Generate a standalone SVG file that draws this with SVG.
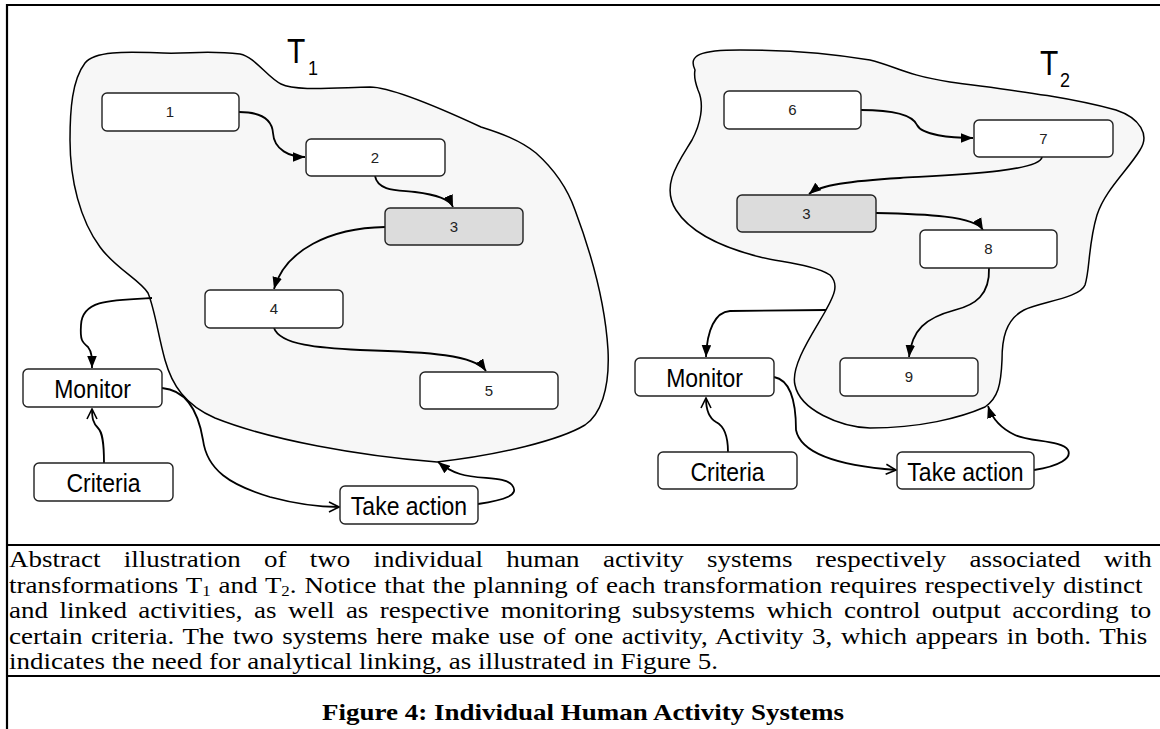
<svg xmlns="http://www.w3.org/2000/svg" width="1160" height="729" viewBox="0 0 1160 729">
  <style>
    .frame { stroke: #000; stroke-width: 2.2; fill: none; }
    .blob { fill: #f7f7f7; stroke: #000; stroke-width: 1.5; }
    .box { fill: #fff; stroke: #222; stroke-width: 1.4; }
    .shared { fill: #dcdcdc; stroke: #222; stroke-width: 1.4; }
    .num { font-family: "Liberation Sans", Arial, sans-serif; font-size: 15px; fill: #222; text-anchor: middle; }
    .lbl { font-family: "Liberation Sans", Arial, sans-serif; font-size: 23px; fill: #000; text-anchor: middle; }
    .tname { font-family: "Liberation Sans", Arial, sans-serif; font-size: 30px; fill: #000; }
    .tsub { font-family: "Liberation Sans", Arial, sans-serif; font-size: 18px; fill: #000; }
    .link { fill: none; stroke: #000; stroke-width: 1.8; }
    .cap { font-family: "Liberation Serif", "Times New Roman", serif; font-size: 24px; fill: #000; }
    .title { font-family: "Liberation Serif", "Times New Roman", serif; font-size: 24px; font-weight: bold; fill: #000; text-anchor: middle; }
  </style>
  <defs>
    <marker id="solid" viewBox="0 0 10 8" refX="10" refY="4" markerWidth="12" markerHeight="10" markerUnits="userSpaceOnUse" orient="auto">
      <path d="M0,0 L10,4 L0,8 z" fill="#000"/>
    </marker>
    <marker id="open" viewBox="0 0 12 12" refX="11" refY="6" markerWidth="12" markerHeight="12" markerUnits="userSpaceOnUse" orient="auto">
      <path d="M1,1 L11,6 L1,11" fill="none" stroke="#000" stroke-width="1.6"/>
    </marker>
  </defs>

  <rect width="1160" height="729" fill="#fff"/>

  <!-- page frame and caption rules -->
  <g id="frame">
    <path class="frame" d="M7,729 L7,5 L1160,5"/>
    <path class="frame" d="M7,545 L1160,545"/>
    <path class="frame" d="M7,676 L1160,676"/>
  </g>

  <!-- transformation T1 boundary -->
  <g id="system-t1">
    <path class="blob" d="M85,63 C95,50 130,52 163,53 C190,54 205,50 240,54 C255,57 268,78 281,84 C295,91 330,88 370,87 C390,87 440,108 481,127 C500,133 520,140 536,153 C555,170 568,190 575,210 C590,250 605,300 608,350 C610,390 600,415 585,425 C560,440 500,455 437,462 C360,456 270,440 215,418 C185,405 172,385 165,360 C158,335 155,310 148,293 C140,280 115,268 100,247 C80,220 70,180 70,140 C70,110 72,80 85,63 Z"/>
    <g transform="translate(287,63) scale(1,1.15)"><text class="tname" x="0" y="0">T</text></g>
    <g transform="translate(308,75) scale(1,1.15)"><text class="tsub" x="0" y="0">1</text></g>
  </g>

  <!-- transformation T2 boundary -->
  <g id="system-t2">
    <path class="blob" d="M695,70 C688,55 700,50 740,50 C800,50 840,55 870,60 C895,66 905,75 950,82 C1000,89 1060,95 1116,110 C1140,118 1150,135 1140,150 C1128,170 1105,190 1097,215 C1088,245 1090,270 1085,285 C1080,298 1040,302 1024,310 C1005,320 1002,340 1002,360 C1001,385 998,398 985,407 C960,418 920,428 870,428 C840,427 800,410 795,385 C790,365 815,330 826,310 C833,297 840,285 830,275 C815,265 780,262 760,257 C720,247 690,232 676,210 C660,185 680,160 692,140 C700,125 705,105 698,90 C695,82 694,75 695,70 Z"/>
    <g transform="translate(1040,75) scale(1,1.15)"><text class="tname" x="0" y="0">T</text></g>
    <g transform="translate(1060,87) scale(1,1.15)"><text class="tsub" x="0" y="0">2</text></g>
  </g>

  <!-- connectors -->
  <g id="connectors">
    <!-- T1 activity chain -->
    <path class="link" marker-end="url(#solid)" d="M239,112 C262,112 272,120 273,133 C274,150 290,157 305,157"/>
    <path class="link" marker-end="url(#solid)" d="M375,176 C378,192 400,190 415,192 C440,195 450,200 453,207"/>
    <path class="link" marker-end="url(#solid)" d="M385,227 C330,228 285,250 274,289"/>
    <path class="link" marker-end="url(#solid)" d="M274,328 C280,345 320,348 360,350 C430,352 475,355 486,371"/>
    <!-- T1 monitoring loop -->
    <path class="link" marker-end="url(#solid)" d="M152,298 C110,300 82,300 81,325 C80,340 82,342 88,347 C92,352 92,358 92,368"/>
    <path class="link" marker-end="url(#open)" d="M104,463 C104,440 102,432 98,428 C93,423 92,418 92,409"/>
    <path class="link" marker-end="url(#open)" d="M162,388 C185,390 198,410 203,440 C207,470 230,485 270,497 C300,505 320,507 339,507"/>
    <path class="link" marker-end="url(#solid)" d="M478,504 C505,500 520,495 512,485 C505,476 480,480 460,474 C450,471 443,466 438,462"/>
    <!-- T2 activity chain -->
    <path class="link" marker-end="url(#solid)" d="M861,110 C890,110 912,114 917,125 C922,135 950,138 973,138"/>
    <path class="link" marker-end="url(#solid)" d="M1042,157 C1040,172 950,175 900,178 C850,181 820,185 809,194"/>
    <path class="link" marker-end="url(#solid)" d="M876,213 C925,214 975,216 983,230"/>
    <path class="link" marker-end="url(#solid)" d="M989,268 C990,295 975,305 955,310 C925,318 912,330 909,357"/>
    <!-- T2 monitoring loop -->
    <path class="link" marker-end="url(#solid)" d="M826,310 L730,311 C715,312 707,330 706,357"/>
    <path class="link" marker-end="url(#open)" d="M728,452 C728,432 722,425 716,422 C709,418 706,410 706,398"/>
    <path class="link" marker-end="url(#open)" d="M774,377 C790,380 796,400 796,430 C800,450 830,465 896,470"/>
    <path class="link" marker-end="url(#solid)" d="M1034,470 C1060,466 1072,458 1068,450 C1062,440 1030,442 1015,435 C1000,428 992,418 988,406"/>
  </g>

  <!-- T1 nodes -->
  <g id="a1"><rect class="box" x="102" y="93" width="137" height="38" rx="5"/><text class="num" x="170" y="117">1</text></g>
  <g id="a2"><rect class="box" x="306" y="139" width="139" height="37" rx="5"/><text class="num" x="375" y="163">2</text></g>
  <g id="a3-t1"><rect class="shared" x="385" y="208" width="138" height="37" rx="5"/><text class="num" x="454" y="232">3</text></g>
  <g id="a4"><rect class="box" x="205" y="290" width="138" height="38" rx="5"/><text class="num" x="274" y="314">4</text></g>
  <g id="a5"><rect class="box" x="420" y="372" width="138" height="37" rx="5"/><text class="num" x="489" y="396">5</text></g>
  <g id="monitor-t1"><rect class="box" x="23" y="369" width="139" height="38" rx="5"/><g transform="translate(92.5,398) scale(1,1.12)"><text class="lbl" x="0" y="0">Monitor</text></g></g>
  <g id="criteria-t1"><rect class="box" x="34" y="463" width="139" height="38" rx="5"/><g transform="translate(103.5,492) scale(1,1.12)"><text class="lbl" x="0" y="0">Criteria</text></g></g>
  <g id="action-t1"><rect class="box" x="340" y="486" width="138" height="38" rx="5"/><g transform="translate(409,515) scale(1,1.12)"><text class="lbl" x="0" y="0">Take action</text></g></g>

  <!-- T2 nodes -->
  <g id="a6"><rect class="box" x="724" y="91" width="137" height="38" rx="5"/><text class="num" x="792.5" y="115">6</text></g>
  <g id="a7"><rect class="box" x="974" y="120" width="139" height="37" rx="5"/><text class="num" x="1043.5" y="144">7</text></g>
  <g id="a3-t2"><rect class="shared" x="737" y="195" width="139" height="37" rx="5"/><text class="num" x="806.5" y="219">3</text></g>
  <g id="a8"><rect class="box" x="920" y="230" width="137" height="38" rx="5"/><text class="num" x="988.5" y="254">8</text></g>
  <g id="a9"><rect class="box" x="840" y="358" width="138" height="38" rx="5"/><text class="num" x="909" y="382">9</text></g>
  <g id="monitor-t2"><rect class="box" x="635" y="358" width="139" height="38" rx="5"/><g transform="translate(704.5,387) scale(1,1.12)"><text class="lbl" x="0" y="0">Monitor</text></g></g>
  <g id="criteria-t2"><rect class="box" x="658" y="452" width="139" height="37" rx="5"/><g transform="translate(727.5,481) scale(1,1.12)"><text class="lbl" x="0" y="0">Criteria</text></g></g>
  <g id="action-t2"><rect class="box" x="897" y="452" width="137" height="37" rx="5"/><g transform="translate(965.5,481) scale(1,1.12)"><text class="lbl" x="0" y="0">Take action</text></g></g>

  <!-- caption text -->
  <g id="caption">
    <text class="cap" transform="translate(9,567) scale(1.125,1)" x="0" y="0" word-spacing="14.7">Abstract illustration of two individual human activity systems respectively associated with</text>
    <text class="cap" transform="translate(9,592.5) scale(1.125,1)" x="0" y="0" word-spacing="0.99">transformations T<tspan font-size="15" dy="3">1</tspan><tspan dy="-3"> and T</tspan><tspan font-size="15" dy="3">2</tspan><tspan dy="-3">. Notice that the planning of each transformation requires respectively distinct</tspan></text>
    <text class="cap" transform="translate(9,618) scale(1.125,1)" x="0" y="0" word-spacing="4.2">and linked activities, as well as respective monitoring subsystems which control output according to</text>
    <text class="cap" transform="translate(9,643.5) scale(1.125,1)" x="0" y="0" word-spacing="1.7">certain criteria. The two systems here make use of one activity, Activity 3, which appears in both. This</text>
    <text class="cap" transform="translate(9,668.5) scale(1.125,1)" x="0" y="0">indicates the need for analytical linking, as illustrated in Figure 5.</text>
    <text class="title" transform="translate(583,720) scale(1.125,1)" x="0" y="0">Figure 4: Individual Human Activity Systems</text>
  </g>
</svg>
